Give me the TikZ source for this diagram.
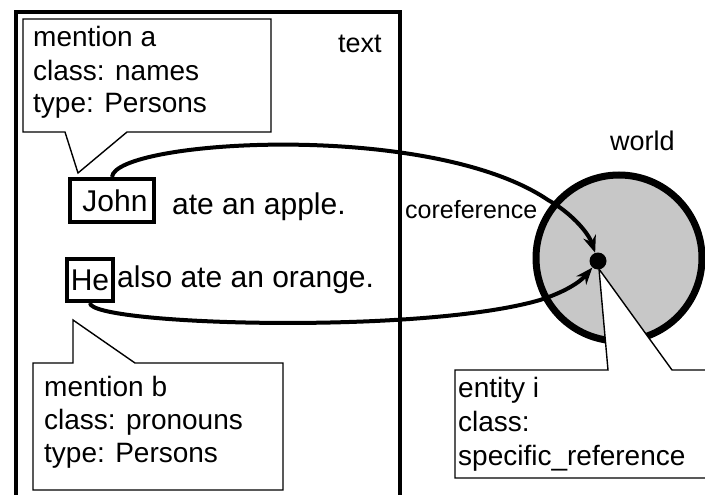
\documentclass[tikz,border=0pt]{standalone}
\usepackage{fontspec}
\setmainfont{Liberation Sans}
\usetikzlibrary{arrows.meta}
\begin{document}
\begin{tikzpicture}[x=1pt,y=-1pt,
  frame/.style={line width=3.5pt},
  callout/.style={draw=black, fill=white, line width=1.4pt, line join=miter},
  lbl/.style={anchor=base west, inner sep=0pt, font=\fontsize{28}{33}\selectfont},
  sent/.style={anchor=base west, inner sep=0pt, font=\fontsize{30}{36}\selectfont},
  mbox/.style={draw, line width=4pt, inner sep=0pt, font=\fontsize{30}{36}\selectfont},
  refarrow/.style={line width=4pt, -{Stealth[length=17pt,width=13pt]}},
]
\clip (0,0) rectangle (705,495);
\fill[white] (0,0) rectangle (705,495);
% text frame
\draw[frame] (16,505) -- (16,12) -- (400,12) -- (400,505);
% world
\draw[line width=7pt, fill=black!22] (619,258) circle[radius=83];
% entity callout
\draw[callout] (455,478) -- (455,370) -- (608,370) -- (599,269) -- (672,370) -- (720,370) -- (720,478) -- cycle;
\node[circle, fill=black, inner sep=0pt, minimum size=17pt] (dot) at (598,261) {};
% mention callouts
\draw[callout] (23,132) -- (23,19) -- (271,19) -- (271,132) -- (127,132) -- (78,173) -- (65,132) -- cycle;
\draw[callout] (33,363) -- (73,363) -- (73,320) -- (135,363) -- (283,363) -- (283,490) -- (33,490) -- cycle;
% mention boxes
\node[mbox, minimum width=84pt, minimum height=43pt] (john) at (112,200.5) {\hspace*{6pt}John};
\node[mbox, minimum width=46pt, minimum height=42pt] (he) at (90,280) {He};
% sentences
\node[sent] (s1) at (172,214) {ate an apple.};
\node[sent] (s2) at (117,287) {also ate an orange.};
% coreference arrows
\draw[refarrow] (john.north) .. controls (115,140) and (430,120) .. (548,200) .. controls (570,212) and (588,232) .. (dot);
\draw[refarrow] (he.south) .. controls (90,325) and (420,335) .. (540,300) .. controls (565,292) and (580,282) .. (dot);
% labels
\node[lbl, font=\fontsize{27}{32}\selectfont] (textlbl) at (338,53) {text};
\node[lbl, font=\fontsize{27}{32}\selectfont] (worldlbl) at (610,150) {world};
\node[lbl, font=\fontsize{25}{30}\selectfont] (coref) at (405,218) {coreference};
% mention a
\node[lbl] (a1) at (33,47) {mention a};
\node[lbl] (a2) at (33,81) {class: names};
\node[lbl] (a3) at (33,113) {type: Persons};
% mention b
\node[lbl] (b1) at (44,396) {mention b};
\node[lbl] (b2) at (44,429) {class: pronouns};
\node[lbl] (b3) at (44,462) {type: Persons};
% entity
\node[lbl] (e1) at (458,397) {entity i};
\node[lbl] (e2) at (458,431) {class:};
\node[lbl] (e3) at (458,465) {specific\_reference};
\end{tikzpicture}
\end{document}
